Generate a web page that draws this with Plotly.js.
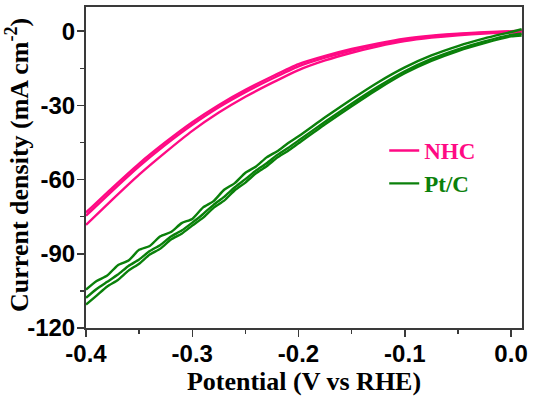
<!DOCTYPE html>
<html>
<head>
<meta charset="utf-8">
<script src="https://cdn.plot.ly/plotly-3.0.1.min.js"></script>
<style>html,body{margin:0;padding:0;background:#fff;}#chart{width:534px;height:400px;}</style>
</head>
<body>
<div id="chart"></div>
<script>
// Potential (V vs RHE)
const xNHC = [-0.4,-0.375,-0.35,-0.325,-0.3,-0.275,-0.25,-0.225,-0.2,-0.175,-0.15,-0.125,-0.1,-0.075,-0.05,-0.025,0,0.01];
// NHC: three sweeps (current density, mA cm-2)
const nhcA = [-73.3,-63.2,-53.5,-44.8,-36.8,-29.8,-23.7,-18.3,-13.3,-10.0,-7.2,-4.9,-3.0,-1.8,-1.0,-0.4,0,0.2];
const nhcB = [-74.6,-64.4,-54.6,-45.8,-37.8,-30.7,-24.6,-19.2,-14.2,-10.7,-7.8,-5.4,-3.4,-2.1,-1.2,-0.6,-0.2,0.1];
const nhcC = [-78.3,-68.0,-58.0,-48.9,-40.3,-32.9,-26.5,-20.9,-15.7,-11.8,-8.7,-6.1,-4.0,-2.6,-1.6,-0.9,-0.5,-0.6];

const xPt = [-0.40,-0.39,-0.38,-0.37,-0.36,-0.35,-0.34,-0.33,-0.32,-0.31,-0.30,-0.29,-0.28,-0.27,-0.26,-0.25,-0.24,-0.23,-0.22,-0.21,-0.20,-0.175,-0.15,-0.125,-0.1,-0.075,-0.05,-0.025,0,0.01];
// Pt/C: three sweeps
const ptA = [-104.5,-101.0,-98.8,-94.6,-92.7,-88.4,-86.8,-82.9,-81.2,-77.6,-75.9,-71.3,-68.7,-64.1,-61.4,-57.2,-54.7,-51.0,-48.5,-45.3,-42.5,-34.8,-27.5,-20.6,-14.6,-9.8,-6.0,-2.9,-0.3,0.8];
const ptB = [-107.8,-104.2,-101.3,-98.4,-94.9,-92.3,-88.9,-86.4,-83.0,-80.6,-77.4,-74.0,-70.2,-67.0,-63.1,-59.8,-56.3,-53.4,-50.0,-47.2,-44.2,-36.6,-29.3,-22.4,-16.2,-11.2,-7.3,-4.1,-1.5,-1.0];
const ptC = [-110.5,-106.9,-103.2,-100.6,-96.8,-94.0,-90.3,-87.9,-84.2,-81.9,-78.6,-75.5,-71.4,-68.5,-64.3,-61.2,-57.4,-54.6,-51.1,-48.4,-45.3,-37.6,-30.3,-23.3,-17.0,-12.0,-8.0,-4.8,-2.1,-1.7];

const xTickVals = [-0.4,-0.3,-0.2,-0.1,0.0];
const xTickText = ['-0.4','-0.3','-0.2','-0.1','0.0'];
const yTickVals = [-120,-90,-60,-30,0];
const yTickText = ['-120','-90','-60','-30','0'];

const pink = '#ff0a84';
const green = '#0a800a';

function tr(x, y, color, name, show, rank) {
  return {x: x, y: y, type: 'scatter', mode: 'lines',
    line: {color: color, width: 2.4, shape: 'spline', smoothing: 0.6},
    name: name, showlegend: show, legendrank: rank, legendgroup: name, hoverinfo: 'skip'};
}
const nhcName = '<span style="color:' + pink + '">NHC</span>';
const ptName = '<span style="color:' + green + '">Pt/C</span>';
const data = [
  tr(xNHC, nhcA, pink, nhcName, true, 1),
  tr(xNHC, nhcB, pink, nhcName, false, 1),
  tr(xNHC, nhcC, pink, nhcName, false, 1),
  tr(xPt, ptA, green, ptName, true, 2),
  tr(xPt, ptB, green, ptName, false, 2),
  tr(xPt, ptC, green, ptName, false, 2)
];

const tickFont = {family: '"Liberation Sans", Arial, sans-serif', size: 24, color: '#000', weight: 'bold'};
const titleFont = {family: '"Liberation Serif", "Times New Roman", serif', size: 26, color: '#000', weight: 'bold'};

const layout = {
  width: 534, height: 400,
  margin: {l: 86, r: 12, t: 7, b: 72, pad: 0},
  paper_bgcolor: '#fff', plot_bgcolor: '#fff',
  showlegend: true,
  legend: {x: 0.684, y: 0.62, xanchor: 'left', yanchor: 'top', bgcolor: 'rgba(0,0,0,0)',
    font: {family: '"Liberation Serif", "Times New Roman", serif', size: 23, weight: 'bold'},
    tracegroupgap: 0, traceorder: 'grouped'},
  xaxis: {range: [-0.4, 0.0103], showgrid: false, zeroline: false,
    showline: true, linecolor: '#3a3a3a', linewidth: 2, mirror: true,
    ticks: 'outside', ticklen: 7, tickwidth: 1.5, tickcolor: '#3a3a3a',
    tickmode: 'array', tickvals: xTickVals, ticktext: xTickText, tickfont: tickFont,
    ticklabelstandoff: -4,
    minor: {ticks: 'outside', ticklen: 4, tickwidth: 1.5, tickcolor: '#3a3a3a', tickmode: 'linear', tick0: 0, dtick: 0.05},
    title: {text: 'Potential (V vs RHE)', font: titleFont, standoff: 6}},
  yaxis: {range: [-120, 9.8], showgrid: false, zeroline: false,
    showline: true, linecolor: '#3a3a3a', linewidth: 2, mirror: true,
    ticks: 'outside', ticklen: 7, tickwidth: 1.5, tickcolor: '#3a3a3a',
    tickmode: 'array', tickvals: yTickVals, ticktext: yTickText, tickfont: tickFont,
    ticklabelstandoff: -3,
    minor: {ticks: 'outside', ticklen: 4, tickwidth: 1.5, tickcolor: '#3a3a3a', tickmode: 'linear', tick0: 0, dtick: 15}},
  annotations: [{
    text: 'Current density (mA cm<sup>-2</sup>)', textangle: -90, showarrow: false,
    xref: 'paper', yref: 'paper', x: -0.156, y: 0.508, xanchor: 'center', yanchor: 'middle',
    font: titleFont
  }]
};

Plotly.newPlot('chart', data, layout, {staticPlot: true, displayModeBar: false});
</script>
</body>
</html>
